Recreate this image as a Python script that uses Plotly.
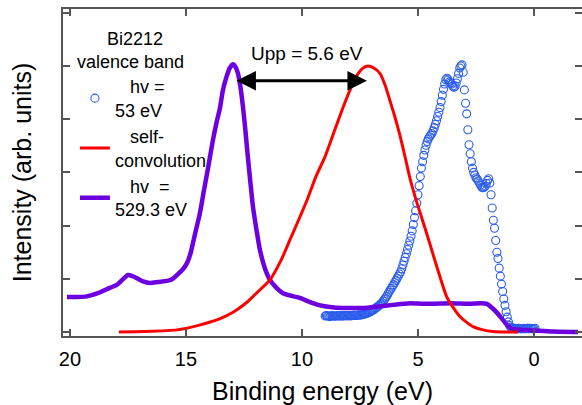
import numpy as np
import plotly.graph_objects as go

# ---------------- data ----------------
# hv = 529.3 eV valence band (purple line)
purple_energy = [20.13, 19.70, 19.27, 18.80, 18.28, 18.00, 17.84, 17.65, 17.50, 17.30,
                 17.11, 16.85, 16.55, 16.20, 15.82, 15.60, 15.39, 15.15, 14.96, 14.80,
                 14.70, 14.55, 14.40, 14.25, 14.09, 13.84, 13.70, 13.53, 13.41, 13.25,
                 13.10, 12.97, 12.85, 12.76, 12.65, 12.54, 12.43, 12.33, 12.22, 12.11,
                 11.96, 11.81, 11.60, 11.38, 11.10, 10.82, 10.45, 10.09, 9.70, 9.31,
                 8.80, 8.23, 7.80, 7.37, 6.70, 6.08, 5.34, 4.80, 4.35, 3.62,
                 2.80, 2.30, 2.03, 1.80, 1.59, 1.38, 1.16, 0.91, 0.50, 0.04,
                 -0.80, -1.90]
purple_intensity = [0.66, 0.66, 0.67, 0.73, 0.83, 0.88, 0.94, 1.02, 1.07, 1.05,
                    1.01, 0.95, 0.92, 0.94, 0.96, 0.99, 1.07, 1.17, 1.29, 1.48,
                    1.67, 1.95, 2.23, 2.60, 2.98, 3.60, 3.90, 4.22, 4.54, 4.80,
                    4.97, 5.03, 4.97, 4.86, 4.60, 4.22, 3.75, 3.28, 2.80, 2.35,
                    1.92, 1.54, 1.20, 0.98, 0.83, 0.73, 0.68, 0.64, 0.57, 0.51,
                    0.47, 0.45, 0.45, 0.45, 0.48, 0.51, 0.54, 0.53, 0.53, 0.54,
                    0.53, 0.54, 0.53, 0.45, 0.36, 0.25, 0.13, 0.06, 0.04, 0.03,
                    0.01, 0.00]

# self-convolution (red line)
red_energy = [17.89, 16.80, 15.39, 14.50, 13.53, 12.97, 12.40, 11.94, 11.38, 10.90,
              10.52, 10.15, 9.78, 9.40, 9.00, 8.60, 8.23, 7.90, 7.63, 7.40,
              7.16, 6.90, 6.64, 6.40, 6.21, 6.00, 5.78, 5.55, 5.34, 5.06,
              4.63, 4.19, 3.76, 3.45, 3.19, 2.90, 2.63, 2.20, 1.76, 1.20,
              0.70]
red_intensity = [0.00, 0.01, 0.04, 0.12, 0.25, 0.37, 0.55, 0.74, 0.98, 1.35,
                 1.73, 2.10, 2.48, 2.92, 3.30, 3.78, 4.22, 4.58, 4.82, 4.95,
                 5.00, 4.96, 4.86, 4.62, 4.35, 4.05, 3.70, 3.28, 2.88, 2.45,
                 1.86, 1.23, 0.66, 0.44, 0.29, 0.18, 0.10, 0.04, 0.01, 0.00,
                 0.00]

# hv = 53 eV valence band (open blue circles), measured every 0.05 eV from 9.00 eV down
blue_start_energy = 9.00
blue_step = 0.05
blue_intensity = [
    0.30, 0.31, 0.30, 0.30, 0.29, 0.30, 0.31, 0.30, 0.30, 0.30,
    0.30, 0.31, 0.30, 0.30, 0.31, 0.30, 0.30, 0.31, 0.31, 0.30,
    0.31, 0.31, 0.30, 0.31, 0.31, 0.32, 0.31, 0.31, 0.32, 0.32,
    0.32, 0.32, 0.33, 0.33, 0.34, 0.35, 0.35, 0.36, 0.37, 0.38,
    0.40, 0.41, 0.42, 0.44, 0.46, 0.47, 0.49, 0.51, 0.53, 0.55,
    0.58, 0.61, 0.64, 0.67, 0.71, 0.75, 0.79, 0.82, 0.86, 0.89,
    0.93, 0.97, 1.01, 1.05, 1.09, 1.13, 1.19, 1.26, 1.33, 1.40,
    1.47, 1.55, 1.63, 1.71, 1.80, 1.90, 2.02, 2.15, 2.28, 2.42,
    2.58, 2.75, 2.92, 3.08, 3.20, 3.32, 3.42, 3.51, 3.58, 3.63,
    3.67, 3.70, 3.73, 3.78, 3.84, 3.90, 3.97, 4.05, 4.13, 4.22,
    4.33, 4.45, 4.56, 4.66, 4.74, 4.77, 4.74, 4.70, 4.68, 4.66,
    4.62, 4.60, 4.62, 4.68, 4.76, 4.86, 4.96, 5.00, 5.02, 4.88,
    4.55, 4.30, 4.10, 3.80, 3.52, 3.35, 3.20, 3.08, 3.00, 2.95,
    2.90, 2.87, 2.84, 2.80, 2.76, 2.72, 2.71, 2.72, 2.74, 2.79,
    2.85, 2.88, 2.80, 2.58, 2.33, 2.10, 1.95, 1.72, 1.50, 1.38,
    1.20, 1.05, 0.90, 0.76, 0.62, 0.50, 0.38, 0.28, 0.19, 0.12,
    0.09, 0.07, 0.07, 0.06, 0.07, 0.06, 0.06, 0.07, 0.06, 0.06,
    0.06, 0.07, 0.06, 0.06, 0.07, 0.07, 0.06, 0.07, 0.06, 0.06,
    0.06, 0.07,
]
blue_energy = np.round(blue_start_energy - blue_step * np.arange(len(blue_intensity)), 2)

x_tick_values = [20, 15, 10, 5, 0]
x_tick_labels = ["20", "15", "10", "5", "0"]
y_tick_values = [0, 1, 2, 3, 4, 5, 6]

upp_left_energy = 12.89
upp_right_energy = 7.20
upp_level = 4.72
upp_label = "Upp = 5.6 eV"
upp_label_energy = 9.78
upp_label_level = 5.24

NB = "\u00a0"
legend_title = NB * 6 + "Bi2212<br>valence band"
name_blue = NB * 3 + "hv =<br>53 eV"
name_red = NB * 3 + "self-<br>convolution"
name_purple = NB * 3 + "hv" + NB + NB + "=<br>529.3 eV"

# ---------------- styling ----------------
FONT = "Liberation Sans, Arial, Helvetica, sans-serif"
AXIS_COLOR = "#555555"
BLUE = "#2a5ceb"
RED = "#ff0000"
PURPLE = "#6c00e0"
LEG_SIZE = 18

fig = go.Figure()
fig.add_trace(go.Scatter(
    x=blue_energy, y=blue_intensity, mode="markers", name=name_blue, legendrank=1,
    marker=dict(symbol="circle-open", size=8, color=BLUE, line=dict(width=1.1, color=BLUE)),
))
fig.add_trace(go.Scatter(
    x=purple_energy, y=purple_intensity, mode="lines", name=name_purple, legendrank=3,
    line=dict(color=PURPLE, width=4.5, shape="spline", smoothing=0.6),
))
fig.add_trace(go.Scatter(
    x=red_energy, y=red_intensity, mode="lines", name=name_red, legendrank=2,
    line=dict(color=RED, width=3, shape="spline", smoothing=0.6),
))

fig.add_annotation(
    x=upp_right_energy, y=upp_level, ax=upp_left_energy, ay=upp_level,
    xref="x", yref="y", axref="x", ayref="y", text="", showarrow=True,
    arrowhead=2, startarrowhead=2, arrowside="end+start",
    arrowsize=1.3, startarrowsize=1.3, arrowwidth=3, arrowcolor="black",
)
fig.add_annotation(
    x=upp_label_energy, y=upp_label_level, xref="x", yref="y",
    text=upp_label, showarrow=False, font=dict(family=FONT, size=19, color="black"),
)

fig.update_xaxes(
    range=[20.30, -2.07], tickvals=x_tick_values, ticktext=x_tick_labels,
    ticks="inside", ticklen=7, tickwidth=1.5, tickcolor=AXIS_COLOR,
    showline=True, linecolor=AXIS_COLOR, linewidth=2, mirror="ticks",
    showgrid=False, zeroline=False, ticklabelstandoff=4,
    tickfont=dict(family=FONT, size=20, color="black"),
    title=dict(text="Binding energy (eV)", font=dict(family=FONT, size=25, color="black"), standoff=20),
)
fig.update_yaxes(
    range=[-0.075, 6.07], tickvals=y_tick_values, showticklabels=False,
    ticks="inside", ticklen=7, tickwidth=1.5, tickcolor=AXIS_COLOR,
    showline=True, linecolor=AXIS_COLOR, linewidth=2, mirror="ticks",
    showgrid=False, zeroline=False,
    title=dict(text="Intensity (arb. units)", font=dict(family=FONT, size=25, color="black"), standoff=22),
)

fig.update_layout(
    width=582, height=405,
    margin=dict(l=63, r=0, t=9, b=69, autoexpand=False),
    paper_bgcolor="white", plot_bgcolor="white",
    font=dict(family=FONT, color="black"),
    showlegend=True,
    legend=dict(
        x=0.023, y=0.962, xanchor="left", yanchor="top",
        bgcolor="rgba(0,0,0,0)", borderwidth=0,
        font=dict(family=FONT, size=LEG_SIZE, color="black"),
        title=dict(text=legend_title, side="top", font=dict(family=FONT, size=LEG_SIZE, color="black")),
        tracegroupgap=0,
    ),
)

fig.write_html("out.html", config={"displayModeBar": False},
               post_script="document.body.style.margin='0px';")
